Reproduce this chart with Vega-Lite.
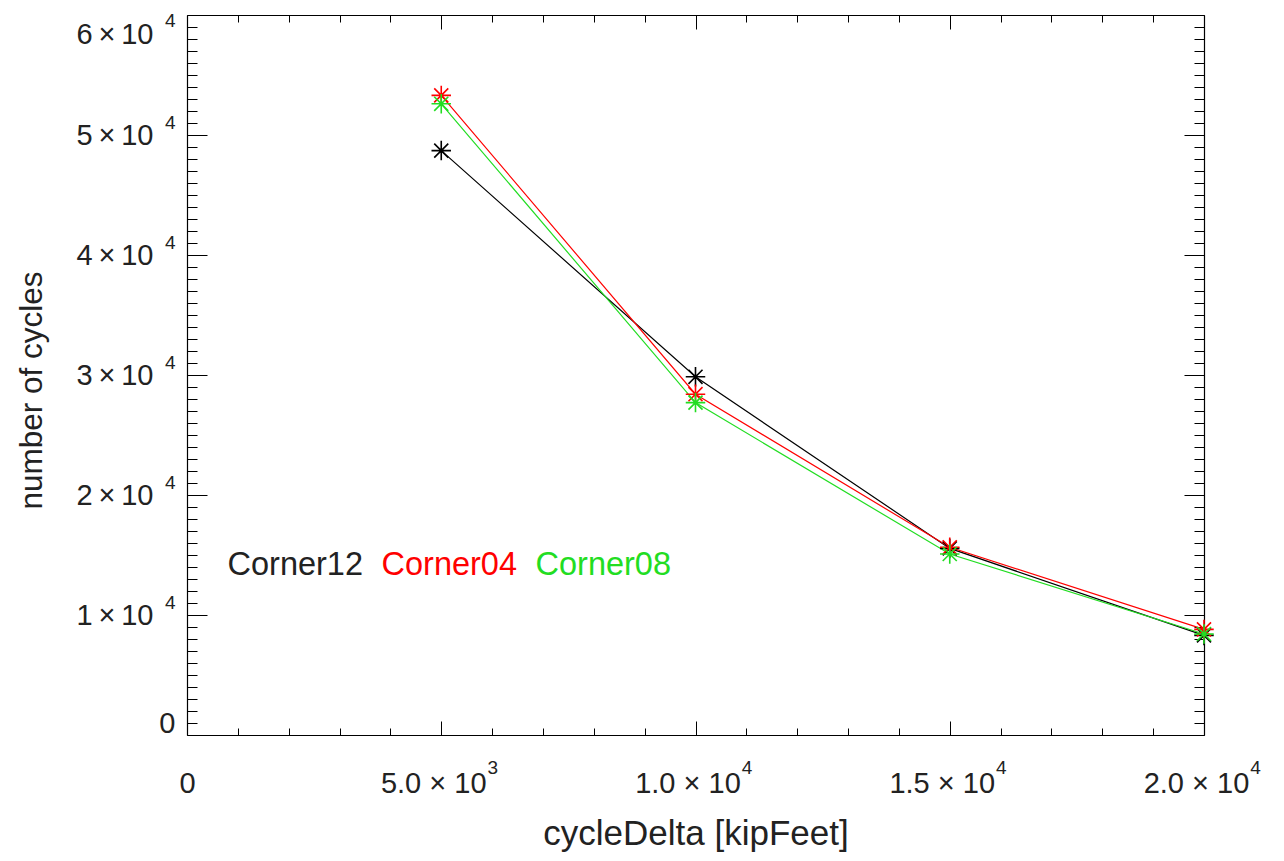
{
  "$schema": "https://vega.github.io/schema/vega-lite/v6.json",
  "width": 1017,
  "height": 720,
  "autosize": {"type": "none"},
  "padding": {"left": 187, "top": 15, "right": 80, "bottom": 126},
  "background": "white",
  "config": {"view": {"stroke": null}, "font": "Liberation Sans"},
  "data": {
    "values": [
      {"cycleDelta": 5000, "cycles": 48700, "series": "Corner12"},
      {"cycleDelta": 10000, "cycles": 29850, "series": "Corner12"},
      {"cycleDelta": 15000, "cycles": 15550, "series": "Corner12"},
      {"cycleDelta": 20000, "cycles": 8300, "series": "Corner12"},
      {"cycleDelta": 5000, "cycles": 53300, "series": "Corner04"},
      {"cycleDelta": 10000, "cycles": 28400, "series": "Corner04"},
      {"cycleDelta": 15000, "cycles": 15640, "series": "Corner04"},
      {"cycleDelta": 20000, "cycles": 8800, "series": "Corner04"},
      {"cycleDelta": 5000, "cycles": 52600, "series": "Corner08"},
      {"cycleDelta": 10000, "cycles": 27700, "series": "Corner08"},
      {"cycleDelta": 15000, "cycles": 15080, "series": "Corner08"},
      {"cycleDelta": 20000, "cycles": 8420, "series": "Corner08"}
    ]
  },
  "layer": [
    {
      "mark": {"type": "line", "strokeWidth": 1.2},
      "encoding": {
        "x": {
          "field": "cycleDelta", "type": "quantitative",
          "scale": {"domain": [0, 20000], "nice": false, "zero": false},
          "axis": {
            "orient": "bottom",
            "values": [0,1000,2000,3000,4000,5000,6000,7000,8000,9000,10000,11000,12000,13000,14000,15000,16000,17000,18000,19000,20000],
            "labelExpr": "datum.value === 0 ? '0' : datum.value === 5000 ? '5.0 × 10' : datum.value === 10000 ? '1.0 × 10' : datum.value === 15000 ? '1.5 × 10' : datum.value === 20000 ? '2.0 × 10' : ''",
            "title": "cycleDelta [kipFeet]",
            "titleFontSize": 35, "titleFontWeight": "normal", "titleColor": "#222222", "titlePadding": 11,
            "labelFontSize": 29, "labelColor": "#222222", "labelPadding": 48,
            "labelOffset": {"condition": {"test": "datum.value === 0", "value": 0}, "value": -8},
            "labelOverlap": false, "labelBound": false, "labelFlush": false,
            "grid": false, "domainColor": "#000000", "domainWidth": 1.2,
            "tickColor": "#000000", "tickWidth": 1,
            "tickSize": {"condition": {"test": "datum.value % 5000 === 0", "value": -14}, "value": -7}
          }
        },
        "y": {
          "field": "cycles", "type": "quantitative",
          "scale": {"domain": [0, 60000], "nice": false, "zero": false},
          "axis": {
            "orient": "left",
            "values": [0,1000,2000,3000,4000,5000,6000,7000,8000,9000,10000,11000,12000,13000,14000,15000,16000,17000,18000,19000,20000,21000,22000,23000,24000,25000,26000,27000,28000,29000,30000,31000,32000,33000,34000,35000,36000,37000,38000,39000,40000,41000,42000,43000,44000,45000,46000,47000,48000,49000,50000,51000,52000,53000,54000,55000,56000,57000,58000,59000,60000],
            "labelExpr": "datum.value % 10000 === 0 ? (datum.value === 0 ? '0' : (datum.value / 10000) + '\u2009×\u200910') : ''",
            "title": "number of cycles",
            "titleFontSize": 31.5, "titleFontWeight": "normal", "titleColor": "#222222", "titlePadding": 28, "titleY": 375,
            "labelFontSize": 29, "labelColor": "#222222",
            "labelPadding": {"condition": {"test": "datum.value === 0", "value": 32}, "value": 54},
            "labelOffset": {"condition": [{"test": "datum.value === 60000", "value": 19}, {"test": "datum.value === 0", "value": -12}], "value": 0},
            "labelOverlap": false, "labelBound": false, "labelFlush": false,
            "grid": false, "domainColor": "#000000", "domainWidth": 1.2,
            "tickColor": "#000000", "tickWidth": 1,
            "tickSize": {"condition": {"test": "datum.value % 10000 === 0", "value": -20}, "value": -10}
          }
        },
        "color": {
          "field": "series", "type": "nominal",
          "scale": {"domain": ["Corner12", "Corner04", "Corner08"], "range": ["#000000", "#ff0000", "#22dd22"]},
          "legend": {
            "orient": "none", "legendX": 41, "legendY": 534, "direction": "horizontal",
            "title": null, "symbolType": "circle", "symbolSize": 0.01, "symbolOpacity": 0, "symbolStrokeWidth": 0.01,
            "symbolOffset": 0, "labelOffset": -33, "columnPadding": 18, "padding": 0.01, "labelFontSize": 32.5,
            "labelColor": {"expr": "datum.value === 'Corner04' ? '#ff0000' : datum.value === 'Corner08' ? '#22dd22' : '#222222'"}
          }
        },
        "detail": {"field": "series"}
      }
    },
    {
      "mark": {"type": "point", "shape": "M0,-1V1M-1,0H1M-0.72,-0.72L0.72,0.72M-0.72,0.72L0.72,-0.72", "filled": false, "strokeWidth": 1.6, "size": 380, "opacity": 1},
      "encoding": {
        "x": {
          "field": "cycleDelta", "type": "quantitative",
          "axis": {
            "orient": "top",
            "values": [0,1000,2000,3000,4000,5000,6000,7000,8000,9000,10000,11000,12000,13000,14000,15000,16000,17000,18000,19000,20000],
            "labels": false, "title": null, "grid": false,
            "domainColor": "#000000", "domainWidth": 1.2, "tickColor": "#000000", "tickWidth": 1,
            "tickSize": {"condition": {"test": "datum.value % 5000 === 0", "value": -14}, "value": -7}
          }
        },
        "y": {
          "field": "cycles", "type": "quantitative",
          "axis": {
            "orient": "right",
            "values": [0,1000,2000,3000,4000,5000,6000,7000,8000,9000,10000,11000,12000,13000,14000,15000,16000,17000,18000,19000,20000,21000,22000,23000,24000,25000,26000,27000,28000,29000,30000,31000,32000,33000,34000,35000,36000,37000,38000,39000,40000,41000,42000,43000,44000,45000,46000,47000,48000,49000,50000,51000,52000,53000,54000,55000,56000,57000,58000,59000,60000],
            "labels": false, "title": null, "grid": false,
            "domainColor": "#000000", "domainWidth": 1.2, "tickColor": "#000000", "tickWidth": 1,
            "tickSize": {"condition": {"test": "datum.value % 10000 === 0", "value": -20}, "value": -10}
          }
        },
        "color": {"field": "series", "type": "nominal", "legend": null}
      }
    },
    {
      "mark": {"type": "point", "opacity": 0},
      "encoding": {
        "x": {
          "field": "cycleDelta", "type": "quantitative",
          "axis": {
            "orient": "bottom",
            "values": [5000, 10000, 15000, 20000],
            "labelExpr": "datum.value === 5000 ? '3' : '4'",
            "title": null, "grid": false, "ticks": false, "domain": false,
            "labelFontSize": 19, "labelColor": "#222222", "labelPadding": 23, "labelOffset": 51,
            "labelOverlap": false, "labelBound": false, "labelFlush": false
          }
        },
        "y": {
          "field": "cycles", "type": "quantitative",
          "axis": {
            "orient": "left",
            "values": [10000, 20000, 30000, 40000, 50000, 60000],
            "labelExpr": "'4'",
            "title": null, "grid": false, "ticks": false, "domain": false,
            "labelFontSize": 19, "labelColor": "#222222", "labelPadding": 12,
            "labelOffset": {"condition": {"test": "datum.value === 60000", "value": 5}, "value": -13},
            "labelOverlap": false, "labelBound": false, "labelFlush": false
          }
        }
      }
    }
  ],
  "resolve": {"axis": {"x": "independent", "y": "independent"}}
}
